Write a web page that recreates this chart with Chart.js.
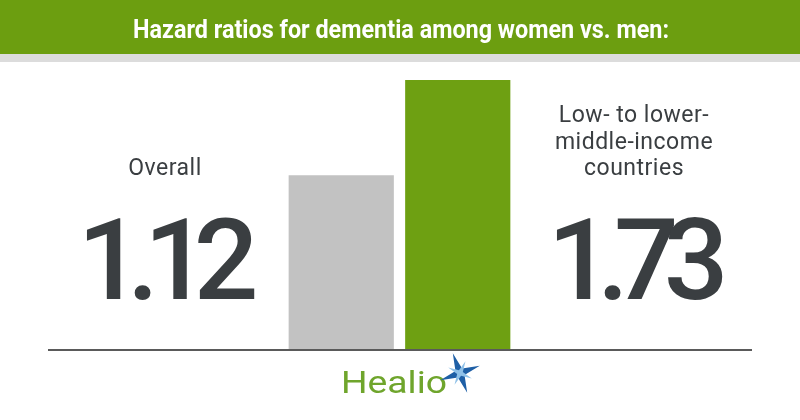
<!DOCTYPE html>
<html lang="en">
<head>
  <meta charset="UTF-8" />
  <title>Hazard ratios for dementia</title>
  <script src="https://cdn.jsdelivr.net/npm/chart.js"></script>
  <style>
    html, body { margin: 0; padding: 0; background: #fff; }
    canvas { display: block; }
  </style>
</head>
<body>
  <canvas id="chart" width="800" height="420"></canvas>

  <script>
    // data
    const title = "Hazard ratios for dementia among women vs. men:";
    const categories = [["Overall"], ["Low- to lower-", "middle-income", "countries"]];
    const hazardRatios = [1.12, 1.73];
    const barColors = ["#c2c2c2", "#6ea012"];

    const DARK = "#3a3e41";

    // draws text char by char with a fixed extra spacing, centred on x
    function spacedText(ctx, str, cx, y, spacing) {
      const widths = [...str].map(ch => ctx.measureText(ch).width);
      const total = widths.reduce((a, b) => a + b, 0) + spacing * (str.length - 1);
      let x = cx - total / 2;
      ctx.textAlign = "left";
      [...str].forEach((ch, i) => {
        ctx.fillText(ch, x, y);
        x += widths[i] + spacing;
      });
    }

    function drawStar(ctx, cx, cy, outer, inner, rot, color) {
      ctx.beginPath();
      for (let i = 0; i < 8; i++) {
        const r = i % 2 === 0 ? outer : inner;
        const a = rot + i * Math.PI / 4;
        const px = cx + Math.cos(a) * r, py = cy + Math.sin(a) * r;
        if (i === 0) ctx.moveTo(px, py); else ctx.lineTo(px, py);
      }
      ctx.closePath();
      ctx.fillStyle = color;
      ctx.fill();
    }

    const decorPlugin = {
      id: "decor",
      beforeDraw(chart) {
        const ctx = chart.ctx;
        ctx.save();
        // header band
        ctx.fillStyle = "#6c9e10";
        ctx.fillRect(0, 0, 800, 54);
        ctx.fillStyle = "#dcdcdc";
        ctx.fillRect(0, 54, 800, 8);

        // title, squeezed to a condensed look
        ctx.font = "bold 26px Roboto";
        ctx.fillStyle = "#ffffff";
        ctx.textBaseline = "alphabetic";
        const tw = ctx.measureText(title).width;
        const target = 536;
        ctx.translate(401, 38);
        ctx.scale(target / tw, 1);
        ctx.textAlign = "center";
        ctx.fillText(title, 0, 0);
        ctx.restore();
      },
      afterDatasetsDraw(chart) {
        const ctx = chart.ctx;
        const y0 = chart.scales.y.getPixelForValue(0);
        ctx.save();

        // baseline
        ctx.strokeStyle = "#5a5a5a";
        ctx.lineWidth = 2;
        ctx.beginPath();
        ctx.moveTo(48, y0);
        ctx.lineTo(752, y0);
        ctx.stroke();

        // labels beside the bars
        ctx.fillStyle = DARK;
        ctx.textBaseline = "alphabetic";
        ctx.font = "23px Roboto";
        ctx.letterSpacing = "0.5px";
        ctx.textAlign = "center";
        const labelX = [165, 634];
        categories.forEach((lines, i) => {
          const lastBase = 175;
          lines.forEach((line, j) => {
            ctx.fillText(line, labelX[i], lastBase - (lines.length - 1 - j) * 26.5);
          });
        });
        ctx.letterSpacing = "0px";

        // big values
        ctx.font = "500 114px Roboto";
        const valueX = [168, 638];
        hazardRatios.forEach((v, i) => {
          spacedText(ctx, v.toFixed(2), valueX[i], 299, -15);
        });

        // Healio logo
        ctx.font = "32px Roboto";
        ctx.fillStyle = "#6fa52c";
        ctx.textAlign = "left";
        const hw = ctx.measureText("Healio").width;
        ctx.save();
        ctx.translate(341, 393);
        ctx.scale(106 / hw, 1);
        ctx.fillText("Healio", 0, 0);
        ctx.restore();
        drawStar(ctx, 460, 373, 21, 5, -0.35, "#1e5fa6");
        drawStar(ctx, 460, 373, 13, 3, -0.35 + Math.PI / 4, "#8fc1e8");
        ctx.restore();
      }
    };

    new Chart(document.getElementById("chart").getContext("2d"), {
      type: "bar",
      data: {
        labels: categories,
        datasets: [{
          data: hazardRatios,
          backgroundColor: barColors,
          borderWidth: 0,
          categoryPercentage: 1,
          barPercentage: 0.903
        }]
      },
      options: {
        responsive: false,
        animation: false,
        devicePixelRatio: 1,
        layout: { padding: { left: 283, right: 284, top: 38, bottom: 70 } },
        plugins: { legend: { display: false }, tooltip: { enabled: false } },
        scales: {
          x: { display: false },
          y: { display: false, min: 0, max: 2 }
        }
      },
      plugins: [decorPlugin]
    });
  </script>
</body>
</html>
